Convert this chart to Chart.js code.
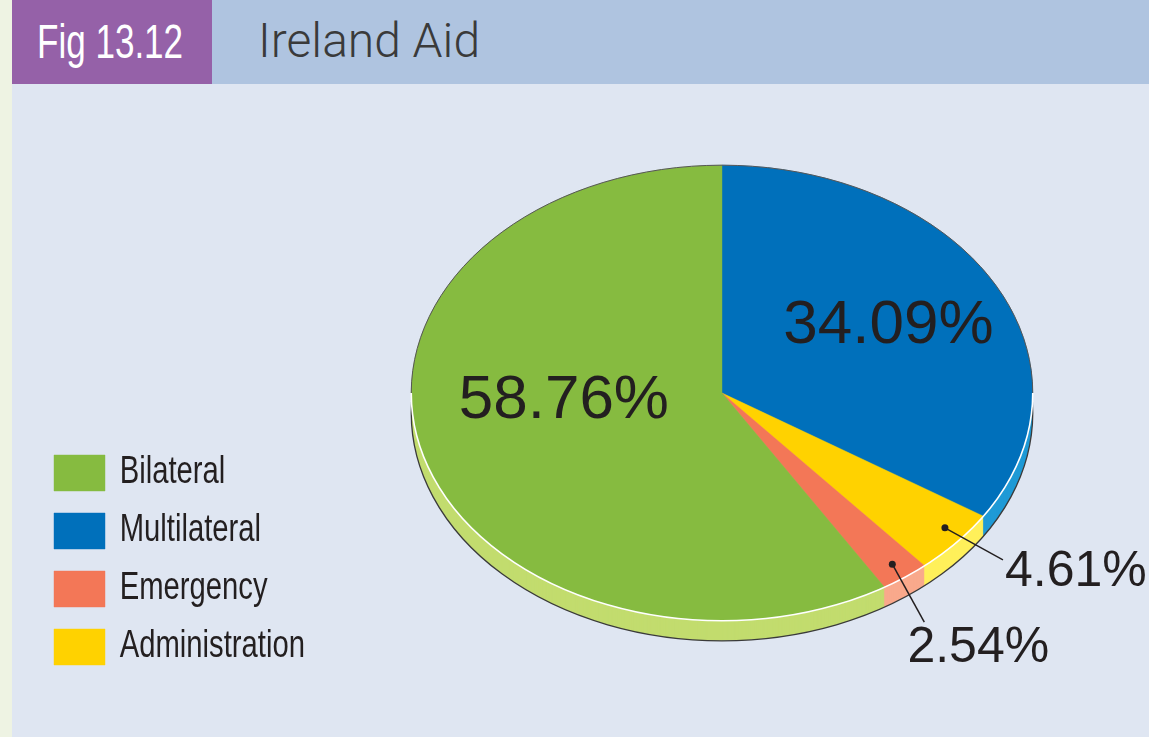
<!DOCTYPE html>
<html>
<head>
<meta charset="utf-8">
<title>Ireland Aid</title>
<script src="https://cdn.jsdelivr.net/npm/chart.js@4.4.0/dist/chart.umd.min.js"></script>
<style>
  html, body { margin: 0; padding: 0; width: 1149px; height: 737px; overflow: hidden; background: #eef3e3; }
  #panel { position: absolute; left: 12px; top: 0; width: 1137px; height: 737px; background: #dfe6f2; }
  #head { position: absolute; left: 12px; top: 0; width: 1137px; height: 84px; background: #afc4e0; }
  #fig { position: absolute; left: 0; top: 0; width: 200px; height: 84px; background: #9561a8; }
  #fig span { position: absolute; left: 25px; top: 14px; color: #fff; white-space: nowrap;
              font: 48px "Liberation Sans", Arial, sans-serif; transform: scaleX(0.73); transform-origin: 0 0; }
  #title { position: absolute; left: 246px; top: 12px; color: #3a3a3a; white-space: nowrap;
           font: 300 48px Roboto, sans-serif; }
  #wrap { position: absolute; left: 0; top: 0; width: 1149px; height: 737px; }
</style>
</head>
<body>
<div id="panel"></div>
<div id="head"><div id="fig"><span>Fig 13.12</span></div><div id="title">Ireland Aid</div></div>
<div id="wrap"><canvas id="aidChart"></canvas></div>
<script>
// --- DATA (clockwise from 12 o'clock) ---
const categories = ["Multilateral", "Administration", "Emergency", "Bilateral"];
const shares = [34.09, 4.61, 2.54, 58.76];
const valueLabels = ["34.09%", "4.61%", "2.54%", "58.76%"];
const legendOrder = ["Bilateral", "Multilateral", "Emergency", "Administration"];

// --- STYLE ---
const topColors = ["#0070bb", "#ffd200", "#f37757", "#86bb40"];
const sideColors = ["#1f9ad6", "#fff05a", "#f9a98c", "#c2dc6e"];
const TILT = 228 / 311;   // squash circle into ellipse
const DEPTH = 20;         // pie thickness in px
const SHIFT_Y = 18;       // move the tilted pie down a bit
const LEGEND_SQUEEZE = 0.77;  // condensed legend type
const LEGEND_X = 54;

// label placement (fraction of radius, extra turn in degrees, font size)
const labelRadius = [0.61, 0.93, 0.93, 0.51];
const labelTurn = [0, -1.5, 0, 12];
const labelSize = [62, 50, 50, 62];
const leaderEnd = [null, [58, 32], [32, 58], null];
const leaderText = [null, [2, 12, "left"], [54, 26, "center"], null];

function tilt(ctx, arc, dy) {
  ctx.translate(arc.x, arc.y + SHIFT_Y + dy);
  ctx.scale(1, TILT);
  ctx.translate(-arc.x, -arc.y);
}

// path built under the transform, stroked/filled after restore
function sectorPath(ctx, arc, dy) {
  ctx.save();
  tilt(ctx, arc, dy);
  ctx.beginPath();
  ctx.moveTo(arc.x, arc.y);
  ctx.arc(arc.x, arc.y, arc.outerRadius, arc.startAngle, arc.endAngle);
  ctx.closePath();
  ctx.restore();
}

function rimPath(ctx, arc, dy, a0, a1) {
  ctx.save();
  tilt(ctx, arc, dy);
  ctx.beginPath();
  ctx.arc(arc.x, arc.y, arc.outerRadius, a0, a1);
  ctx.restore();
}

const tiltedPie = {
  id: "tiltedPie",
  beforeDraw(chart) {
    // legend is drawn next; squeeze it horizontally
    const ctx = chart.ctx;
    ctx.save();
    ctx.translate(LEGEND_X, 0);
    ctx.scale(LEGEND_SQUEEZE, 1);
    ctx.translate(-LEGEND_X, 0);
  },
  beforeDatasetsDraw(chart) {
    const ctx = chart.ctx;
    ctx.restore();
    const arcs = chart.getDatasetMeta(0).data;
    // side of the pie, stacked from the bottom up
    for (let d = DEPTH; d >= 1; d--) {
      arcs.forEach((arc, i) => {
        sectorPath(ctx, arc, d);
        ctx.fillStyle = sideColors[i];
        ctx.fill();
      });
    }
    rimPath(ctx, arcs[0], DEPTH, 0, Math.PI * 2);
    ctx.strokeStyle = "#3a3a3a";
    ctx.lineWidth = 1.3;
    ctx.stroke();
    // top surface drawn by Chart.js under this transform
    ctx.save();
    tilt(ctx, arcs[0], 0);
  },
  afterDatasetsDraw(chart) {
    const ctx = chart.ctx;
    ctx.restore();
    const arcs = chart.getDatasetMeta(0).data;
    const a = arcs[0];

    rimPath(ctx, a, 0, Math.PI, Math.PI * 2);
    ctx.strokeStyle = "#555";
    ctx.lineWidth = 1;
    ctx.stroke();
    rimPath(ctx, a, 0, 0, Math.PI);
    ctx.strokeStyle = "#ffffff";
    ctx.lineWidth = 1.6;
    ctx.stroke();

    ctx.save();
    ctx.fillStyle = "#231f20";
    ctx.strokeStyle = "#231f20";
    ctx.textBaseline = "middle";
    arcs.forEach((arc, i) => {
      const mid = (arc.startAngle + arc.endAngle) / 2 + labelTurn[i] * Math.PI / 180;
      const px = arc.x + Math.cos(mid) * arc.outerRadius * labelRadius[i];
      const py = arc.y + SHIFT_Y + Math.sin(mid) * arc.outerRadius * labelRadius[i] * TILT;
      ctx.font = labelSize[i] + "px 'Liberation Sans', Arial, sans-serif";
      if (leaderEnd[i]) {
        const ex = px + leaderEnd[i][0], ey = py + leaderEnd[i][1];
        ctx.beginPath();
        ctx.arc(px, py, 3.5, 0, Math.PI * 2);
        ctx.fill();
        ctx.beginPath();
        ctx.moveTo(px, py);
        ctx.lineTo(ex, ey);
        ctx.lineWidth = 1.5;
        ctx.stroke();
        ctx.textAlign = leaderText[i][2];
        ctx.fillText(valueLabels[i], ex + leaderText[i][0], ey + leaderText[i][1]);
      } else {
        ctx.textAlign = "center";
        ctx.fillText(valueLabels[i], px, py);
      }
    });
    ctx.restore();
  }
};

const aidChart = new Chart(document.getElementById("aidChart"), {
  type: "pie",
  data: {
    labels: categories,
    datasets: [{
      data: shares,
      backgroundColor: topColors,
      borderColor: topColors,
      borderWidth: 0.5
    }]
  },
  options: {
    responsive: true,
    maintainAspectRatio: false,
    animation: false,
    events: [],
    layout: { padding: { left: 34, top: 64, right: 95, bottom: 51 } },
    plugins: {
      tooltip: { enabled: false },
      legend: {
        position: "left",
        align: "end",
        labels: {
          boxWidth: 51 / LEGEND_SQUEEZE,
          boxHeight: 36,
          padding: 20,
          color: "#231f20",
          font: { family: "'Liberation Sans', Arial, sans-serif", size: 38 },
          sort: (a, b) => legendOrder.indexOf(a.text) - legendOrder.indexOf(b.text)
        }
      }
    }
  },
  plugins: [tiltedPie]
});
</script>
</body>
</html>
